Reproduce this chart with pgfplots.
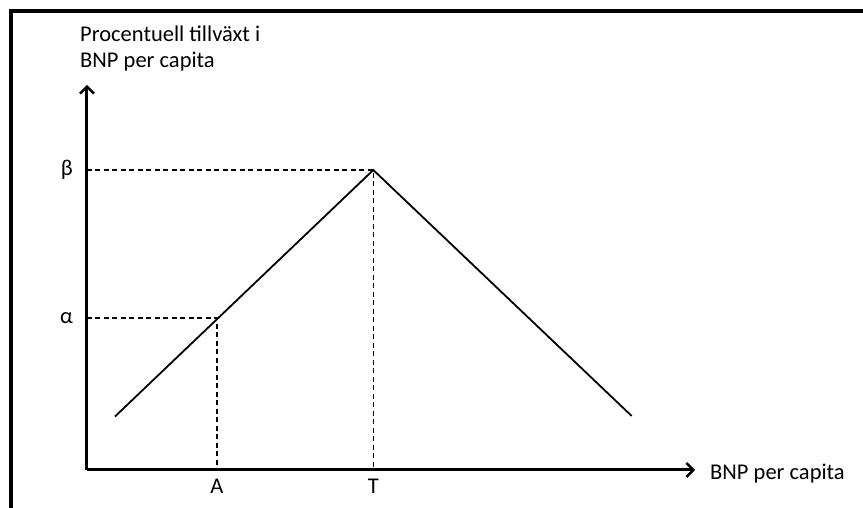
\documentclass[border=0pt]{standalone}
\usepackage{fontspec}
\setmainfont{Carlito}
\usepackage{pgfplots}
\pgfplotsset{compat=1.18}
\usetikzlibrary{arrows.meta}

\newcommand{\lblfont}{\fontsize{22.5}{27}\selectfont}

\begin{document}
\begin{tikzpicture}
\begin{axis}[
  x=1pt, y=1pt,
  xmin=0, xmax=608, ymin=0, ymax=385,
  axis lines=left,
  clip=false,
  axis line style={line width=3pt},
  x axis line style={-{Straight Barb[length=7pt,width=14pt,line width=2.4pt]}},
  y axis line style={-{Straight Barb[length=7pt,width=14pt,line width=2.4pt]}},
  major tick length=0pt,
  xtick={130,286.3}, xticklabels={A,T},
  ytick={152,300}, yticklabels={α,β},
  tick label style={font=\lblfont, text=black},
  xticklabel style={inner sep=0pt, yshift=-9pt},
  yticklabel style={inner sep=0pt, xshift=-14pt},
]
% reference levels alpha and beta, and the corresponding incomes A and T
\addplot[black, line width=1.5pt, dash pattern=on 5pt off 3.5pt]
  coordinates {(0,300) (286.3,300) (286.3,0)};
\addplot[black, line width=1.5pt, dash pattern=on 5pt off 3.5pt]
  coordinates {(0,152) (130,152) (130,0)};
% growth as a function of income per capita
\addplot[black, line width=1.8pt]
  coordinates {(28,53.5) (286.3,300) (544.7,54)};

\node[anchor=base west, font=\lblfont, inner sep=0pt] at (axis cs:-7,428) {Procentuell tillväxt i};
\node[anchor=base west, font=\lblfont, inner sep=0pt] at (axis cs:-7,402) {BNP per capita};
\node[anchor=base west, font=\lblfont, inner sep=0pt] at (axis cs:623,-10) {BNP per capita};

% surrounding frame
\draw[line width=3.8pt] (axis cs:-75.7,-60) -- (axis cs:-75.7,458.7) -- (axis cs:800,458.7);

\coordinate (bl) at (axis cs:-87,-38);
\coordinate (tr) at (axis cs:776,470);
\end{axis}
\pgfresetboundingbox
\path[use as bounding box] (bl) rectangle (tr);
\end{tikzpicture}
\end{document}
